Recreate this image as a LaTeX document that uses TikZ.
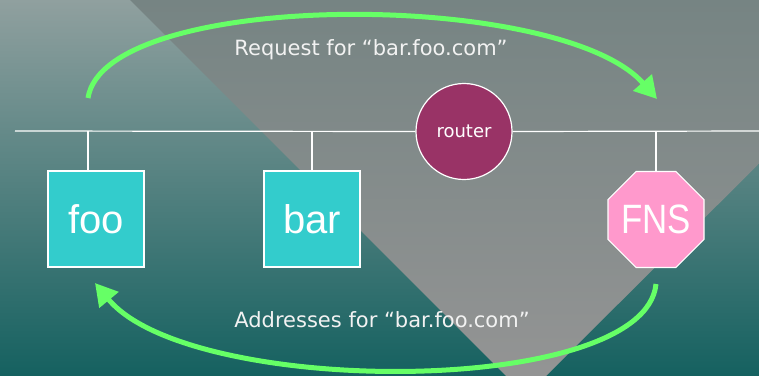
\documentclass[tikz,border=0pt]{standalone}
\usepackage{fontspec}
\setmainfont{Liberation Sans}
\newfontfamily\lblfont{DejaVu Sans}
\usetikzlibrary{shapes.geometric,arrows.meta}
\definecolor{bgtop}{HTML}{90A09F}
\definecolor{bgbot}{HTML}{156160}
\definecolor{tritop}{HTML}{768483}
\definecolor{tribot}{HTML}{959595}
\definecolor{hostc}{HTML}{33CCCC}
\definecolor{routerc}{HTML}{993366}
\definecolor{fnsc}{HTML}{FF99CC}
\definecolor{arrowc}{HTML}{66FF66}
\definecolor{txtc}{HTML}{F2F2F2}
\tikzset{
  host/.style={draw=white, line width=1.2pt, fill=hostc, minimum size=96pt, inner sep=0pt, text=white, font=\fontsize{40}{40}\selectfont},
  routerbox/.style={circle, draw=white, line width=1.2pt, fill=routerc, minimum size=96pt, inner sep=0pt, text=white, font=\lblfont\fontsize{18}{18}\selectfont},
  fnsbox/.style={regular polygon, regular polygon sides=8, draw=white, line width=1.2pt, fill=fnsc, minimum size=103.9pt, inner sep=0pt, outer sep=0pt, text=white, font=\fontsize{41}{41}\selectfont},
  wire/.style={draw=white, line width=1.2pt},
  flow/.style={draw=arrowc, line width=5pt, -{Triangle[length=22pt,width=24pt]}},
  lbl/.style={text=txtc, font=\lblfont\fontsize{21}{21}\selectfont, inner sep=0pt, anchor=base}
}
\begin{document}
\begin{tikzpicture}[x=1pt,y=-1pt]
\useasboundingbox (0,0) rectangle (759,375);
\shade[top color=bgtop, bottom color=bgbot] (0,0) rectangle (759,375);
\begin{scope}
\clip (0,0) rectangle (759,375);
\shade[top color=tritop, bottom color=tribot] (130,0) -- (923,0) -- (526,396) -- cycle;
\end{scope}
% bus
\coordinate (busL) at (15,131);
\coordinate (busR) at (759,131);
\node[routerbox] (router) at (464,131.5) {router};
\draw[wire] (busL) -- (router.west);
\draw[wire] (router.east) -- (busR);
% hosts
\node[host] (foo) at (96,219) {foo};
\node[host] (bar) at (312,219) {bar};
\node[fnsbox] (fns) at (656,219.5) {\makebox[0pt]{\scalebox{0.85}[1]{FNS}}};
\coordinate (tfoo) at (88,131);
\coordinate (tbar) at (312,131);
\coordinate (tfns) at (656,131);
\draw[wire] (tfoo) -- (tfoo |- foo.north);
\draw[wire] (tbar) -- (bar.north);
\draw[wire] (tfns) -- (fns.north);
% arrows
\coordinate (a1s) at (88,98);
\coordinate (a1e) at (657,99);
\draw[flow] (a1s) .. controls (105,-11) and (560,-11) .. (a1e);
\coordinate (a2s) at (656,284);
\coordinate (a2e) at (95,283);
\draw[flow] (a2s) .. controls (645,398) and (190,398) .. (a2e);
% labels
\node[lbl] (req) at (371,55) {Request for “bar.foo.com”};
\node[lbl] (addr) at (382,327) {Addresses for “bar.foo.com”};
\end{tikzpicture}
\end{document}
